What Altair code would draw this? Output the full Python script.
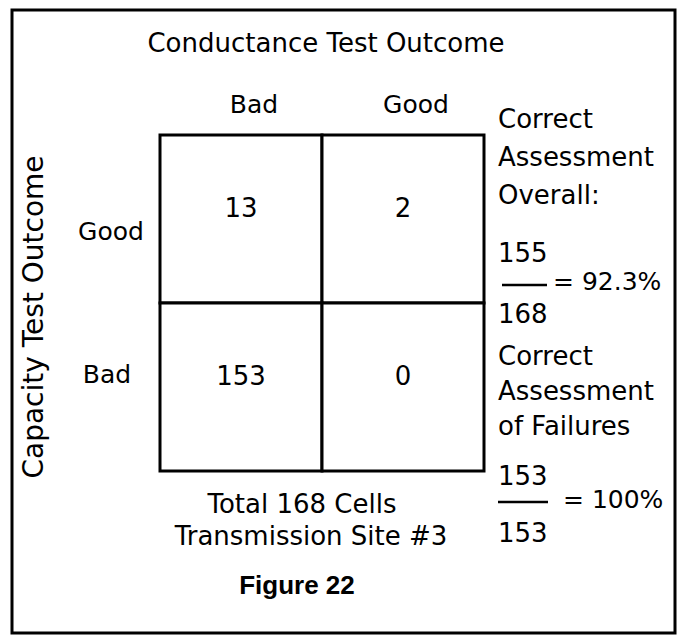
import altair as alt
import pandas as pd

# ---- data ----
col_labels = ["Bad", "Good"]            # Conductance test outcome
row_labels = ["Good", "Bad"]            # Capacity test outcome
counts = [[13, 2], [153, 0]]            # rows x columns
title_x = "Conductance Test Outcome"
title_y = "Capacity Test Outcome"
overall_label = ["Correct", "Assessment", "Overall:"]
overall_num = "155"
overall_den = "168"
overall_pct = "= 92.3%"
fail_label = ["Correct", "Assessment", "of Failures"]
fail_num = "153"
fail_den = "153"
fail_pct = "= 100%"
footer = ["Total 168 Cells", "Transmission Site #3"]
figure_label = "Figure 22"

cells = pd.DataFrame(
    [{"col": c, "row": r, "n": counts[i][j]}
     for i, r in enumerate(row_labels) for j, c in enumerate(col_labels)]
)
cols_df = pd.DataFrame({"col": col_labels})
rows_df = pd.DataFrame({"row": row_labels})

FONT = "DejaVu Sans"
W, H = 324, 336

xs = alt.X("col:N", sort=col_labels,
           scale=alt.Scale(paddingInner=0, paddingOuter=0), axis=None)
ys = alt.Y("row:N", sort=row_labels,
           scale=alt.Scale(paddingInner=0, paddingOuter=0), axis=None)


def label(text, x, y, size=26, align="left", weight="normal", font=FONT, angle=0):
    return alt.Chart(pd.DataFrame({"t": [text]})).mark_text(
        font=font, fontSize=size, align=align, baseline="alphabetic",
        fontWeight=weight, angle=angle, color="black"
    ).encode(text="t:N", x=alt.value(x), y=alt.value(y))


def hrule(x1, x2, y, w=2.5):
    return alt.Chart(pd.DataFrame({"k": [0]})).mark_rule(
        color="black", strokeWidth=w
    ).encode(x=alt.value(x1), x2=alt.value(x2), y=alt.value(y))


frame = alt.Chart(pd.DataFrame({"k": [0]})).mark_rect(
    fill="white", stroke="black", strokeWidth=3
).encode(x=alt.value(-148), x2=alt.value(515), y=alt.value(-125), y2=alt.value(498))

grid = alt.Chart(cells).mark_rect(
    fill="white", stroke="black", strokeWidth=3
).encode(x=xs, y=ys)

nums = alt.Chart(cells).mark_text(
    font=FONT, fontSize=26, baseline="alphabetic", dy=-2, color="black"
).encode(x=xs, y=ys, text="n:Q")

headers = alt.Chart(cols_df).mark_text(
    font=FONT, fontSize=25, baseline="alphabetic", dx=13, color="black"
).encode(x=xs, y=alt.value(-22), text="col:N")

row_good = alt.Chart(rows_df).transform_filter(alt.datum.row == "Good").mark_text(
    font=FONT, fontSize=25, baseline="alphabetic", align="center", dy=21, color="black"
).encode(x=alt.value(-49), y=ys, text="row:N")

row_bad = alt.Chart(rows_df).transform_filter(alt.datum.row == "Bad").mark_text(
    font=FONT, fontSize=25, baseline="alphabetic", align="center", dy=-4, color="black"
).encode(x=alt.value(-53), y=ys, text="row:N")

layers = [frame, grid, nums, headers, row_good, row_bad,
          label(title_x, 166, -83, size=26, align="center"),
          label(title_y, -117, 182, size=28, align="center", angle=270)]

# right column: overall
for txt, yy in zip(overall_label, [-7, 31, 69]):
    layers.append(label(txt, 338, yy))
layers += [label(overall_num, 338, 127), hrule(342, 387, 150),
           label(overall_pct, 393, 155, size=25), label(overall_den, 338, 188)]

# right column: failures
for txt, yy in zip(fail_label, [230, 265, 300]):
    layers.append(label(txt, 338, yy))
layers += [label(fail_num, 338, 350), hrule(338, 388, 367),
           label(fail_pct, 403, 373, size=25), label(fail_den, 338, 407)]

# footer
layers += [label(footer[0], 142, 378, align="center"),
           label(footer[1], 151, 410, align="center"),
           label(figure_label, 137, 459, size=26, align="center",
                 weight="bold", font="Liberation Sans")]

chart = alt.layer(*layers).properties(
    width=W, height=H,
    autosize=alt.AutoSizeParams(type="none"),
    padding={"left": 152, "top": 127, "right": 193, "bottom": 165},
).configure_view(strokeWidth=0)

chart.save("out.html", embed_options={"renderer": "svg", "actions": False})
